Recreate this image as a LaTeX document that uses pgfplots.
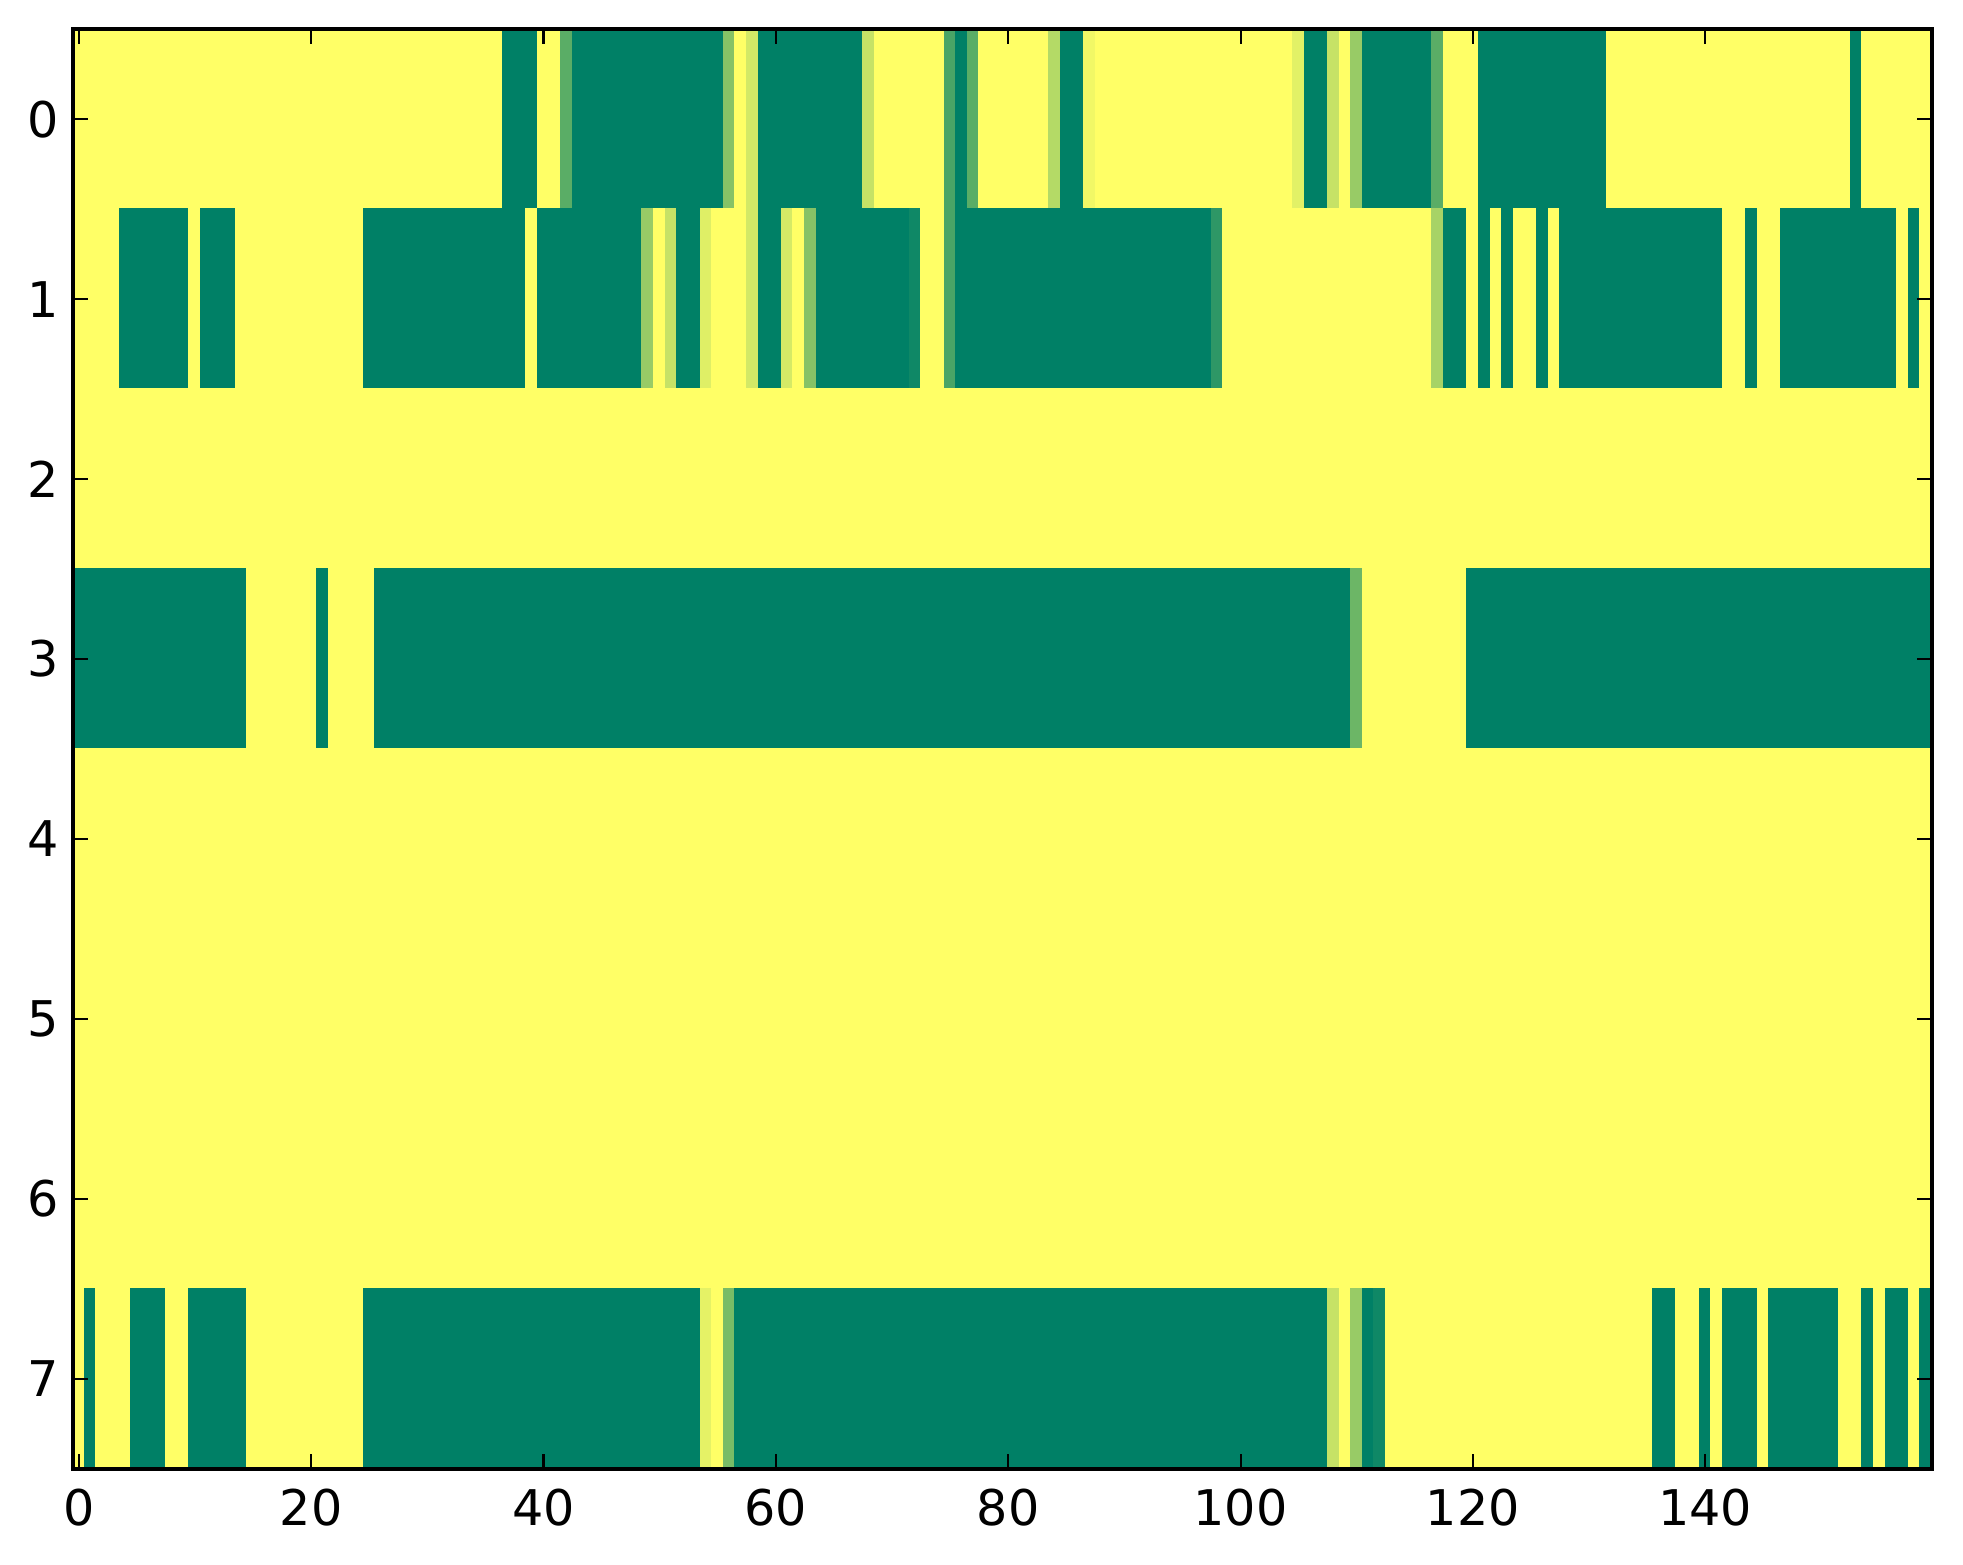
\documentclass[border=0pt]{standalone}
\usepackage{fontspec}
\setmainfont{DejaVu Sans}
\usepackage{pgfplots}
\pgfplotsset{compat=1.18}
\begin{document}
\begin{tikzpicture}
\path[use as bounding box] (-17.8pt,-23.2pt) rectangle (461pt,358.3pt);
\begin{axis}[
  at={(0,0)}, anchor=south west,
  scale only axis, width=453.4pt, height=351.2pt,
  xmin=-0.5, xmax=159.5, ymin=-0.5, ymax=7.5, y dir=reverse,
  enlargelimits=false, axis on top,
  xtick={0,20,...,140}, ytick={0,1,...,7},
  tick align=inside, major tick length=3.7pt,
  axis line style={line width=0.9pt},
  every tick/.style={black, line width=0.5pt},
  tick label style={font=\fontsize{12}{14}\selectfont},
  xticklabel style={yshift=-1.4pt},
  /pgf/number format/assume math mode=true,
  colormap={summer}{rgb255=(0,128,102) rgb255=(255,255,102)},
  point meta min=0, point meta max=1,
]
\addplot[matrix plot*, mesh/cols=160, point meta=explicit]
  table[header=false, row sep=\\, x expr={mod(\coordindex,160)}, y expr={floor(\coordindex/160)}, meta index=0] {
1\\1\\1\\1\\1\\1\\1\\1\\1\\1\\1\\1\\1\\1\\1\\1\\1\\1\\1\\1\\
1\\1\\1\\1\\1\\1\\1\\1\\1\\1\\1\\1\\1\\1\\1\\1\\1\\0\\0\\0\\
1\\1\\0.35\\0\\0\\0\\0\\0\\0\\0\\0\\0\\0\\0\\0\\0\\0.52\\1\\0.82\\0\\
0\\0\\0\\0\\0\\0\\0\\0\\0.77\\1\\1\\1\\1\\1\\1\\0.29\\0\\0.35\\1\\1\\
1\\1\\1\\1\\0.7\\0\\0\\0.94\\1\\1\\1\\1\\1\\1\\1\\1\\1\\1\\1\\1\\
1\\1\\1\\1\\1\\0.88\\0\\0\\0.77\\1\\0.59\\0\\0\\0\\0\\0\\0\\0.35\\1\\1\\
1\\0\\0\\0\\0\\0\\0\\0\\0\\0\\0\\0\\1\\1\\1\\1\\1\\1\\1\\1\\
1\\1\\1\\1\\1\\1\\1\\1\\1\\1\\1\\1\\1\\0\\1\\1\\1\\1\\1\\1\\
1\\1\\1\\1\\0\\0\\0\\0\\0\\0\\1\\0\\0\\0\\1\\1\\1\\1\\1\\1\\
1\\1\\1\\1\\1\\0\\0\\0\\0\\0\\0\\0\\0\\0\\0\\0\\0\\0\\0\\1\\
0\\0\\0\\0\\0\\0\\0\\0\\0\\0.59\\1\\0.77\\0\\0\\0.87\\1\\1\\1\\0.82\\0\\
0\\0.83\\1\\0.52\\0\\0\\0\\0\\0\\0\\0\\0\\0.06\\1\\1\\0.29\\0\\0\\0\\0\\
0\\0\\0\\0\\0\\0\\0\\0\\0\\0\\0\\0\\0\\0\\0\\0\\0\\0\\0.18\\1\\
1\\1\\1\\1\\1\\1\\1\\1\\1\\1\\1\\1\\1\\1\\1\\1\\1\\0.65\\0\\0\\
1\\0\\1\\0\\1\\1\\0\\1\\0\\0\\0\\0\\0\\0\\0\\0\\0\\0\\0\\0\\
0\\0\\1\\1\\0\\1\\1\\0\\0\\0\\0\\0\\0\\0\\0\\0\\0\\1\\0\\1\\
1\\1\\1\\1\\1\\1\\1\\1\\1\\1\\1\\1\\1\\1\\1\\1\\1\\1\\1\\1\\
1\\1\\1\\1\\1\\1\\1\\1\\1\\1\\1\\1\\1\\1\\1\\1\\1\\1\\1\\1\\
1\\1\\1\\1\\1\\1\\1\\1\\1\\1\\1\\1\\1\\1\\1\\1\\1\\1\\1\\1\\
1\\1\\1\\1\\1\\1\\1\\1\\1\\1\\1\\1\\1\\1\\1\\1\\1\\1\\1\\1\\
1\\1\\1\\1\\1\\1\\1\\1\\1\\1\\1\\1\\1\\1\\1\\1\\1\\1\\1\\1\\
1\\1\\1\\1\\1\\1\\1\\1\\1\\1\\1\\1\\1\\1\\1\\1\\1\\1\\1\\1\\
1\\1\\1\\1\\1\\1\\1\\1\\1\\1\\1\\1\\1\\1\\1\\1\\1\\1\\1\\1\\
1\\1\\1\\1\\1\\1\\1\\1\\1\\1\\1\\1\\1\\1\\1\\1\\1\\1\\1\\1\\
0\\0\\0\\0\\0\\0\\0\\0\\0\\0\\0\\0\\0\\0\\0\\1\\1\\1\\1\\1\\
1\\0\\1\\1\\1\\1\\0\\0\\0\\0\\0\\0\\0\\0\\0\\0\\0\\0\\0\\0\\
0\\0\\0\\0\\0\\0\\0\\0\\0\\0\\0\\0\\0\\0\\0\\0\\0\\0\\0\\0\\
0\\0\\0\\0\\0\\0\\0\\0\\0\\0\\0\\0\\0\\0\\0\\0\\0\\0\\0\\0\\
0\\0\\0\\0\\0\\0\\0\\0\\0\\0\\0\\0\\0\\0\\0\\0\\0\\0\\0\\0\\
0\\0\\0\\0\\0\\0\\0\\0\\0\\0\\0.42\\1\\1\\1\\1\\1\\1\\1\\1\\1\\
0\\0\\0\\0\\0\\0\\0\\0\\0\\0\\0\\0\\0\\0\\0\\0\\0\\0\\0\\0\\
0\\0\\0\\0\\0\\0\\0\\0\\0\\0\\0\\0\\0\\0\\0\\0\\0\\0\\0\\0\\
1\\1\\1\\1\\1\\1\\1\\1\\1\\1\\1\\1\\1\\1\\1\\1\\1\\1\\1\\1\\
1\\1\\1\\1\\1\\1\\1\\1\\1\\1\\1\\1\\1\\1\\1\\1\\1\\1\\1\\1\\
1\\1\\1\\1\\1\\1\\1\\1\\1\\1\\1\\1\\1\\1\\1\\1\\1\\1\\1\\1\\
1\\1\\1\\1\\1\\1\\1\\1\\1\\1\\1\\1\\1\\1\\1\\1\\1\\1\\1\\1\\
1\\1\\1\\1\\1\\1\\1\\1\\1\\1\\1\\1\\1\\1\\1\\1\\1\\1\\1\\1\\
1\\1\\1\\1\\1\\1\\1\\1\\1\\1\\1\\1\\1\\1\\1\\1\\1\\1\\1\\1\\
1\\1\\1\\1\\1\\1\\1\\1\\1\\1\\1\\1\\1\\1\\1\\1\\1\\1\\1\\1\\
1\\1\\1\\1\\1\\1\\1\\1\\1\\1\\1\\1\\1\\1\\1\\1\\1\\1\\1\\1\\
1\\1\\1\\1\\1\\1\\1\\1\\1\\1\\1\\1\\1\\1\\1\\1\\1\\1\\1\\1\\
1\\1\\1\\1\\1\\1\\1\\1\\1\\1\\1\\1\\1\\1\\1\\1\\1\\1\\1\\1\\
1\\1\\1\\1\\1\\1\\1\\1\\1\\1\\1\\1\\1\\1\\1\\1\\1\\1\\1\\1\\
1\\1\\1\\1\\1\\1\\1\\1\\1\\1\\1\\1\\1\\1\\1\\1\\1\\1\\1\\1\\
1\\1\\1\\1\\1\\1\\1\\1\\1\\1\\1\\1\\1\\1\\1\\1\\1\\1\\1\\1\\
1\\1\\1\\1\\1\\1\\1\\1\\1\\1\\1\\1\\1\\1\\1\\1\\1\\1\\1\\1\\
1\\1\\1\\1\\1\\1\\1\\1\\1\\1\\1\\1\\1\\1\\1\\1\\1\\1\\1\\1\\
1\\1\\1\\1\\1\\1\\1\\1\\1\\1\\1\\1\\1\\1\\1\\1\\1\\1\\1\\1\\
1\\1\\1\\1\\1\\1\\1\\1\\1\\1\\1\\1\\1\\1\\1\\1\\1\\1\\1\\1\\
1\\1\\1\\1\\1\\1\\1\\1\\1\\1\\1\\1\\1\\1\\1\\1\\1\\1\\1\\1\\
1\\1\\1\\1\\1\\1\\1\\1\\1\\1\\1\\1\\1\\1\\1\\1\\1\\1\\1\\1\\
1\\1\\1\\1\\1\\1\\1\\1\\1\\1\\1\\1\\1\\1\\1\\1\\1\\1\\1\\1\\
1\\1\\1\\1\\1\\1\\1\\1\\1\\1\\1\\1\\1\\1\\1\\1\\1\\1\\1\\1\\
1\\1\\1\\1\\1\\1\\1\\1\\1\\1\\1\\1\\1\\1\\1\\1\\1\\1\\1\\1\\
1\\1\\1\\1\\1\\1\\1\\1\\1\\1\\1\\1\\1\\1\\1\\1\\1\\1\\1\\1\\
1\\1\\1\\1\\1\\1\\1\\1\\1\\1\\1\\1\\1\\1\\1\\1\\1\\1\\1\\1\\
1\\0\\1\\1\\1\\0\\0\\0\\1\\1\\0\\0\\0\\0\\0\\1\\1\\1\\1\\1\\
1\\1\\1\\1\\1\\0\\0\\0\\0\\0\\0\\0\\0\\0\\0\\0\\0\\0\\0\\0\\
0\\0\\0\\0\\0\\0\\0\\0\\0\\0\\0\\0\\0\\0\\0.89\\1\\0.47\\0\\0\\0\\
0\\0\\0\\0\\0\\0\\0\\0\\0\\0\\0\\0\\0\\0\\0\\0\\0\\0\\0\\0\\
0\\0\\0\\0\\0\\0\\0\\0\\0\\0\\0\\0\\0\\0\\0\\0\\0\\0\\0\\0\\
0\\0\\0\\0\\0\\0\\0\\0\\0.77\\1\\0.59\\0\\0.06\\1\\1\\1\\1\\1\\1\\1\\
1\\1\\1\\1\\1\\1\\1\\1\\1\\1\\1\\1\\1\\1\\1\\1\\0\\0\\1\\1\\
0\\1\\0\\0\\0\\1\\0\\0\\0\\0\\0\\0\\1\\1\\0\\1\\0\\0\\1\\0\\
};
\end{axis}
\end{tikzpicture}
\end{document}
